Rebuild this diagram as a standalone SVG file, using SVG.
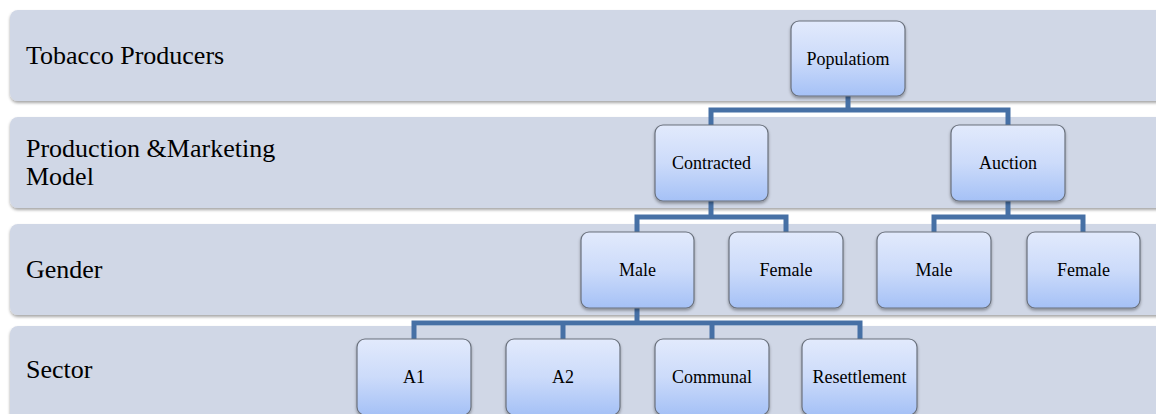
<svg xmlns="http://www.w3.org/2000/svg" width="1156" height="414" viewBox="0 0 1156 414">
<defs>
<linearGradient id="ng" x1="0" y1="0" x2="0" y2="1">
<stop offset="0" stop-color="#e2eafc"/>
<stop offset="0.5" stop-color="#ccdbfa"/>
<stop offset="1" stop-color="#a5c1f6"/>
</linearGradient>
<filter id="sh" x="-5%" y="-10%" width="110%" height="130%">
<feDropShadow dx="0" dy="2" stdDeviation="1.5" flood-color="#000" flood-opacity="0.35"/>
</filter>
</defs>
<style>
.band{fill:#d0d7e6;filter:url(#sh)}
.bt{font-family:"Liberation Serif","Times New Roman",serif;font-size:26px;fill:#000}
.node rect{fill:url(#ng);stroke:#6a717d;stroke-width:1.2;filter:url(#sh)}
.node text{font-family:"Liberation Serif","Times New Roman",serif;font-size:18px;fill:#000;text-anchor:middle;dominant-baseline:central}
.conn path{fill:none;stroke:#4670a5;stroke-width:5;stroke-linejoin:miter}
</style>
<rect width="1156" height="414" fill="#ffffff"/>
<g id="bands">
<rect class="band" x="10" y="10" width="1160" height="91" rx="8"/>
<rect class="band" x="10" y="117" width="1160" height="91" rx="8"/>
<rect class="band" x="10" y="224" width="1160" height="91" rx="8"/>
<rect class="band" x="10" y="326" width="1160" height="100" rx="8"/>
<text class="bt" x="26" y="64">Tobacco Producers</text>
<text class="bt" x="26" y="157">Production &amp;Marketing</text>
<text class="bt" x="26" y="185">Model</text>
<text class="bt" x="26" y="278">Gender</text>
<text class="bt" x="26" y="378">Sector</text>
</g>
<g id="connectors" class="conn">
<path d="M848 96V110M711 125V110H1008V125"/>
<path d="M711 201V217M637 232V217H786V232"/>
<path d="M1008 201V217M934 232V217H1083V232"/>
<path d="M637 308V323M414 339V323H860V339M563 323V339M712 323V339"/>
</g>
<g id="n-population" class="node"><rect x="791" y="21" width="114" height="75" rx="8"/><text x="848" y="58.5">Populatiom</text></g>
<g id="n-contracted" class="node"><rect x="655" y="125" width="113" height="76" rx="8"/><text x="711.5" y="163">Contracted</text></g>
<g id="n-auction" class="node"><rect x="951" y="125" width="114" height="76" rx="8"/><text x="1008" y="163">Auction</text></g>
<g id="n-male1" class="node"><rect x="581" y="232" width="113" height="76" rx="8"/><text x="637.5" y="270">Male</text></g>
<g id="n-female1" class="node"><rect x="729" y="232" width="114" height="76" rx="8"/><text x="786" y="270">Female</text></g>
<g id="n-male2" class="node"><rect x="877" y="232" width="114" height="76" rx="8"/><text x="934" y="270">Male</text></g>
<g id="n-female2" class="node"><rect x="1027" y="232" width="113" height="76" rx="8"/><text x="1083.5" y="270">Female</text></g>
<g id="n-a1" class="node"><rect x="357" y="339" width="114" height="76" rx="8"/><text x="414" y="377">A1</text></g>
<g id="n-a2" class="node"><rect x="506" y="339" width="114" height="76" rx="8"/><text x="563" y="377">A2</text></g>
<g id="n-communal" class="node"><rect x="655" y="339" width="114" height="76" rx="8"/><text x="712" y="377">Communal</text></g>
<g id="n-resettlement" class="node"><rect x="802" y="339" width="115" height="76" rx="8"/><text x="859.5" y="377">Resettlement</text></g>
</svg>
